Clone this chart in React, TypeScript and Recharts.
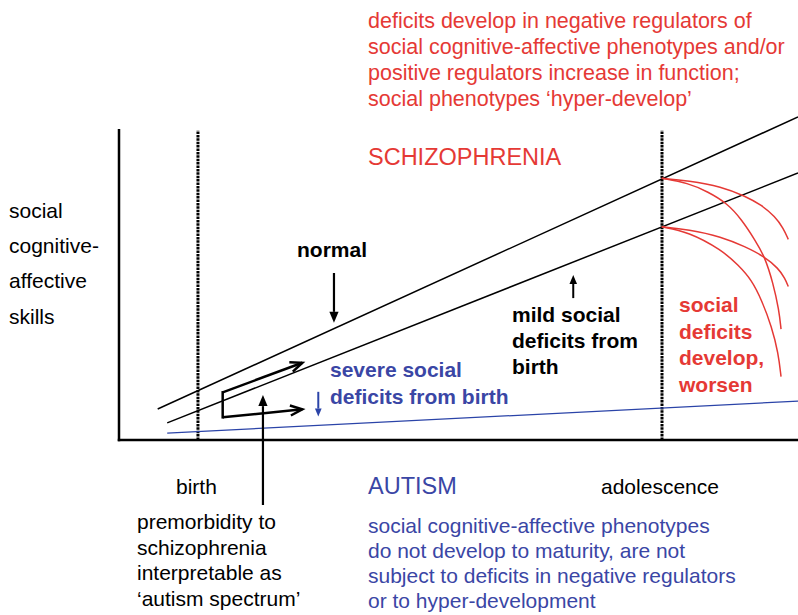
import React from "react";
import { ComposedChart, Line, XAxis, YAxis, ReferenceLine, Customized } from "recharts";

// ---- data (x: developmental time 0-100, y: social cognitive-affective skills 0-100)
const normalLine = [
  { x: 5.7, y: 9.4 },
  { x: 100, y: 97.9 },
];
const mildLine = [
  { x: 7.1, y: 5.2 },
  { x: 100, y: 80.9 },
];
const autismLine = [
  { x: 7.1, y: 2.1 },
  { x: 100, y: 11.8 },
];
const arcNormalShallow = [
  { x: 79.93, y: 79.3 }, { x: 83.84, y: 78.6 }, { x: 88.76, y: 76.8 }, { x: 92.19, y: 73.9 },
  { x: 94.65, y: 71.2 }, { x: 96.61, y: 67.7 }, { x: 97.84, y: 64.2 }, { x: 98.57, y: 60.8 },
];
const arcNormalSteep = [
  { x: 79.93, y: 79.3 }, { x: 83.8, y: 77.9 }, { x: 86.75, y: 75.2 }, { x: 89.54, y: 71.8 },
  { x: 91.75, y: 66.7 }, { x: 93.67, y: 60.6 }, { x: 95.14, y: 55.4 }, { x: 96.32, y: 47.6 },
  { x: 97.2, y: 39.4 }, { x: 97.5, y: 33.6 },
];
const arcMildShallow = [
  { x: 79.93, y: 64.6 }, { x: 83.84, y: 63.8 }, { x: 88.76, y: 61.6 }, { x: 92.19, y: 58.6 },
  { x: 95.14, y: 55.5 }, { x: 97.1, y: 52.0 }, { x: 98.09, y: 49.0 }, { x: 98.57, y: 46.5 },
];
const arcMildSteep = [
  { x: 79.93, y: 64.6 }, { x: 83.84, y: 63.1 }, { x: 88.76, y: 57.6 }, { x: 91.21, y: 53.0 },
  { x: 93.18, y: 48.5 }, { x: 94.65, y: 42.4 }, { x: 96.13, y: 34.3 }, { x: 97.1, y: 26.3 },
  { x: 97.5, y: 19.2 },
];
const birthX = 11.63;
const adolescenceX = 79.97;
const axisTop = 93.9;

// arrows (data units): [x1, y1, x2, y2]
const normalArrow = [31.66, 50.6, 31.66, 35.5];
const mildArrow = [66.9, 43.0, 66.9, 50.0];
const severeArrow = [29.35, 14.6, 29.35, 7.1];
const premorbidArrow = [21.2, -19.7, 21.2, 13.6];
const bracketUpper = [15.27, 14.45, 27.0, 23.4];
const bracketSide = [15.27, 14.45, 15.27, 6.88];
const bracketLower = [15.27, 6.88, 27.0, 9.3];

// ---- text
const topNote = [
  "deficits develop in negative regulators of",
  "social cognitive-affective phenotypes and/or",
  "positive regulators increase in function;",
  "social phenotypes \u2018hyper-develop\u2019",
];
const yLabel = ["social", "cognitive-", "affective", "skills"];
const mildLabel = ["mild social", "deficits from", "birth"];
const severeLabel = ["severe social", "deficits from birth"];
const worsenLabel = ["social", "deficits", "develop,", "worsen"];
const premorbidLabel = ["premorbidity to", "schizophrenia", "interpretable as", "\u2018autism spectrum\u2019"];
const autismNote = [
  "social cognitive-affective phenotypes",
  "do not develop to maturity, are not",
  "subject to deficits in negative regulators",
  "or to hyper-development",
];

const RED = "#e53935";
const BLUE_TXT = "#3a46a5";
const BLUE_LINE = "#2b44a8";
const FONT = "'Liberation Sans', Arial, Helvetica, sans-serif";

const seg = (a: number[]) => [
  { x: a[0], y: a[1] },
  { x: a[2], y: a[3] },
];

const arrowShape = (color: string, width: number, head: number, open = false) => (p: any) => {
  const { x1, y1, x2, y2 } = p;
  const ang = Math.atan2(y2 - y1, x2 - x1);
  const hw = head * 0.42;
  const bx = x2 - head * Math.cos(ang);
  const by = y2 - head * Math.sin(ang);
  const lx = bx + hw * Math.sin(ang);
  const ly = by - hw * Math.cos(ang);
  const rx = bx - hw * Math.sin(ang);
  const ry = by + hw * Math.cos(ang);
  return (
    <g>
      <line x1={x1} y1={y1} x2={open ? x2 : bx} y2={open ? y2 : by} stroke={color} strokeWidth={width} />
      {open ? (
        <polyline points={`${lx},${ly} ${x2},${y2} ${rx},${ry}`} fill="none" stroke={color} strokeWidth={width} />
      ) : (
        <polygon points={`${lx},${ly} ${x2},${y2} ${rx},${ry}`} fill={color} />
      )}
    </g>
  );
};

const plainShape = (color: string, width: number) => (p: any) => (
  <line x1={p.x1} y1={p.y1} x2={p.x2} y2={p.y2} stroke={color} strokeWidth={width} strokeLinecap="square" />
);

const Lines = ({ x, y, lines, dy, size, color, bold }: any) => (
  <text x={x} y={y} fill={color} fontSize={size} fontWeight={bold ? "bold" : "normal"} fontFamily={FONT}>
    {lines.map((t: string, i: number) => (
      <tspan key={i} x={x} y={y + i * dy}>
        {t}
      </tspan>
    ))}
  </text>
);

const Annotations = () => (
  <g>
    <Lines x={368} y={28} lines={topNote} dy={26} size={21.5} color={RED} />
    <Lines x={368} y={165} lines={["SCHIZOPHRENIA"]} dy={0} size={23.5} color={RED} />
    <Lines x={9} y={218} lines={yLabel} dy={35.2} size={21} color="#000" />
    <Lines x={297} y={257} lines={["normal"]} dy={0} size={21} color="#000" bold />
    <Lines x={512} y={322} lines={mildLabel} dy={26} size={21} color="#000" bold />
    <Lines x={330} y={377} lines={severeLabel} dy={26.5} size={21} color={BLUE_TXT} bold />
    <Lines x={679} y={312} lines={worsenLabel} dy={26.5} size={21} color={RED} bold />
    <Lines x={176} y={494} lines={["birth"]} dy={0} size={21} color="#000" />
    <Lines x={368} y={494} lines={["AUTISM"]} dy={0} size={23.5} color={BLUE_TXT} />
    <Lines x={601} y={494} lines={["adolescence"]} dy={0} size={21} color="#000" />
    <Lines x={137} y={529} lines={premorbidLabel} dy={25.5} size={21} color="#000" />
    <Lines x={368} y={533} lines={autismNote} dy={25} size={21} color={BLUE_TXT} />
  </g>
);

export default function App() {
  return (
    <div style={{ position: "absolute", left: 0, top: 0, width: 798, height: 615, background: "#fff" }}>
      <ComposedChart width={798} height={615} margin={{ top: 110, right: 0, bottom: 175, left: 119 }}>
        <XAxis type="number" dataKey="x" domain={[0, 100]} allowDataOverflow hide />
        <YAxis type="number" dataKey="y" domain={[0, 100]} allowDataOverflow hide />

        {/* axes */}
        <ReferenceLine segment={[{ x: 0, y: 0 }, { x: 100, y: 0 }]} ifOverflow="visible" shape={plainShape("#000", 2.5)} />
        <ReferenceLine segment={[{ x: 0, y: 0 }, { x: 0, y: axisTop }]} ifOverflow="visible" shape={plainShape("#000", 2.5)} />
        {/* birth & adolescence */}
        <ReferenceLine segment={[{ x: birthX, y: 0 }, { x: birthX, y: axisTop }]} ifOverflow="visible" stroke="#000" strokeWidth={3} strokeDasharray="2.5 0.9" />
        <ReferenceLine segment={[{ x: adolescenceX, y: 0 }, { x: adolescenceX, y: axisTop }]} ifOverflow="visible" stroke="#000" strokeWidth={3} strokeDasharray="2.5 0.9" />

        <Line data={normalLine} dataKey="y" type="linear" stroke="#000" strokeWidth={1.5} dot={false} isAnimationActive={false} />
        <Line data={mildLine} dataKey="y" type="linear" stroke="#000" strokeWidth={1.5} dot={false} isAnimationActive={false} />
        <Line data={autismLine} dataKey="y" type="linear" stroke={BLUE_LINE} strokeWidth={1.3} dot={false} isAnimationActive={false} />
        <Line data={arcNormalShallow} dataKey="y" type="basis" stroke={RED} strokeWidth={1.5} dot={false} isAnimationActive={false} />
        <Line data={arcNormalSteep} dataKey="y" type="basis" stroke={RED} strokeWidth={1.5} dot={false} isAnimationActive={false} />
        <Line data={arcMildShallow} dataKey="y" type="basis" stroke={RED} strokeWidth={1.5} dot={false} isAnimationActive={false} />
        <Line data={arcMildSteep} dataKey="y" type="basis" stroke={RED} strokeWidth={1.5} dot={false} isAnimationActive={false} />

        {/* arrows */}
        <ReferenceLine segment={seg(normalArrow)} ifOverflow="visible" shape={arrowShape("#000", 2.2, 11)} />
        <ReferenceLine segment={seg(mildArrow)} ifOverflow="visible" shape={arrowShape("#000", 2, 9)} />
        <ReferenceLine segment={seg(severeArrow)} ifOverflow="visible" shape={arrowShape(BLUE_LINE, 2, 8)} />
        <ReferenceLine segment={seg(premorbidArrow)} ifOverflow="visible" shape={arrowShape("#000", 2.2, 11)} />
        <ReferenceLine segment={seg(bracketSide)} ifOverflow="visible" shape={plainShape("#000", 2.5)} />
        <ReferenceLine segment={seg(bracketUpper)} ifOverflow="visible" shape={arrowShape("#000", 2.5, 12, true)} />
        <ReferenceLine segment={seg(bracketLower)} ifOverflow="visible" shape={arrowShape("#000", 2.5, 12, true)} />

        <Customized component={Annotations} />
      </ComposedChart>
    </div>
  );
}
